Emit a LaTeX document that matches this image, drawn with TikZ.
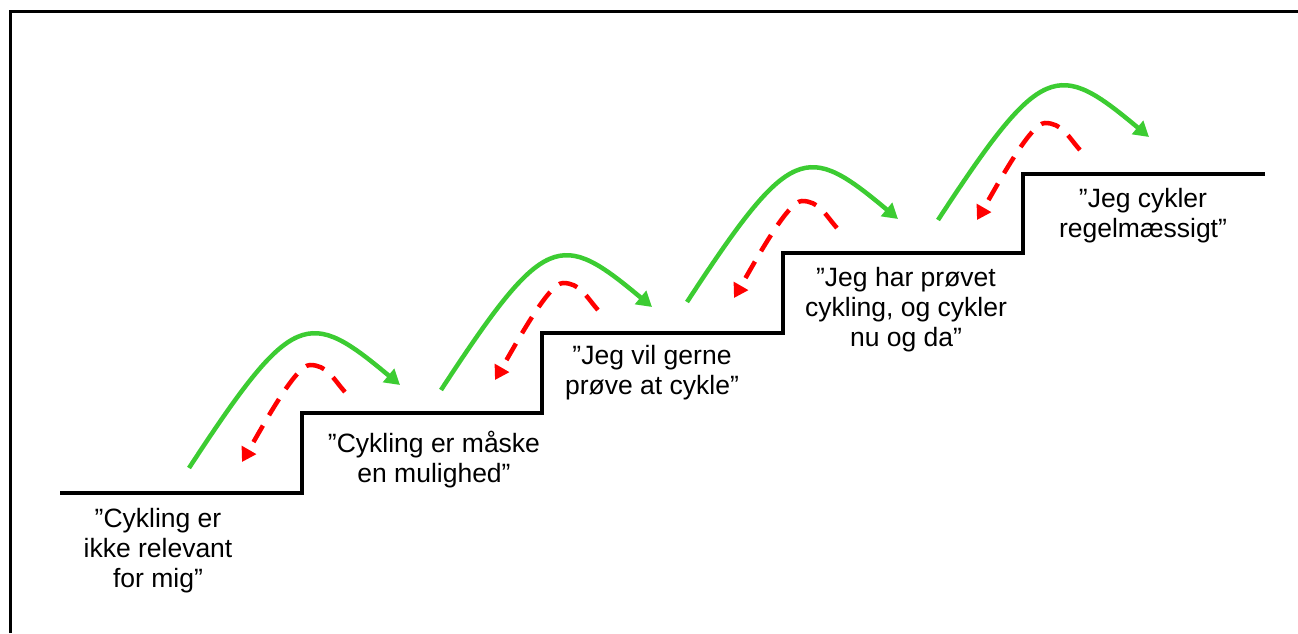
\documentclass[tikz,border=0pt]{standalone}
\usepackage{fontspec}
\setmainfont{Liberation Sans}
\usetikzlibrary{arrows.meta}
\definecolor{upgreen}{RGB}{60,204,50}

\begin{document}
\begin{tikzpicture}[x=1pt,y=1pt,
stair/.style={line width=4pt,line join=miter},
up/.style={line width=4.5pt,draw=upgreen,-{Triangle[length=15pt,width=17pt]}},
back/.style={line width=4.5pt,draw=red,dash pattern=on 19pt off 12pt,-{Triangle[length=14pt,width=16pt]}},
quote/.style={align=center,inner sep=0pt,font=\fontsize{26.5}{30}\selectfont}]
\useasboundingbox (0,0) rectangle (1298,633);
% The frame
\draw[line width=3pt,line join=miter] (10.5,0) -- (10.5,621.5) -- (1298,621.5);
% The stairs
\draw[stair] (60,140) -- (302,140) -- (302,220) -- (542,220) -- (542,300)
  -- (783,300) -- (783,380) -- (1023,380) -- (1023,459) -- (1265,459);
% Text under each step
\node[quote] (s0) at (158,82) {”Cykling er\\ikke relevant\\for mig”};
\node[quote] (s1) at (434,173) {”Cykling er måske\\en mulighed”};
\node[quote] (s2) at (652,260) {”Jeg vil gerne\\prøve at cykle”};
\node[quote] (s3) at (906,323) {”Jeg har prøvet\\cykling, og cykler\\nu og da”};
\node[quote] (s4) at (1143,417) {”Jeg cykler\\regelmæssigt”};
% Jumps up (green) and falls back (red)
\foreach \gx/\gy/\rx/\ry in {189/165/345/241, 441/243/598/323, 687/331/837/405, 938/413/1080/483}
{
  \draw[up] (\gx,\gy) .. controls ({\gx+104},{\gy+159}) and ({\gx+119},{\gy+160})
    .. ({\gx+211},{\gy+83});
  \draw[back] (\rx,\ry) to[out=132,in=0] ++(-35,27)
    to[out=180,in=60,out distance=14pt,in distance=45pt] ++(-68,-97);
}
\end{tikzpicture}
\end{document}
